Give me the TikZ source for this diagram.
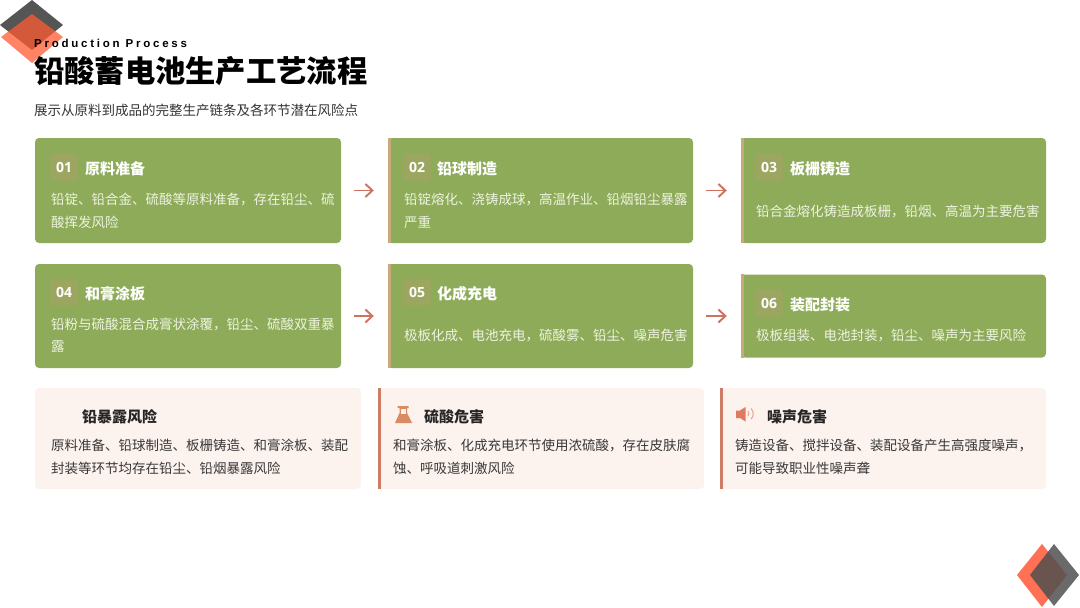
\documentclass[tikz,border=0pt]{standalone}
\usepackage{fontspec}
\usepackage{xcolor}
\usetikzlibrary{positioning, arrows.meta}
\setmainfont{Noto Sans CJK SC}
\newfontfamily\latinfont{Open Sans}
\newfontfamily\spacedfont[LetterSpace=24]{Liberation Sans}
\definecolor{cardgreen}{RGB}{141, 171, 89}
\definecolor{cardbar}{RGB}{201, 169, 124}
\definecolor{badgetan}{RGB}{157, 166, 96}
\definecolor{arrowred}{RGB}{208, 112, 95}
\definecolor{riskpink}{RGB}{252, 242, 238}
\definecolor{riskbar}{RGB}{205, 125, 102}
\definecolor{flaskorange}{RGB}{217, 140, 100}
\definecolor{speakerred}{RGB}{224, 122, 96}
\definecolor{darkdiamond}{RGB}{85, 85, 85}
\definecolor{greydiamond}{RGB}{80, 80, 80}
\definecolor{coraldiamond}{RGB}{255, 112, 84}
\definecolor{redoverlay}{RGB}{255, 90, 50}
\definecolor{bodylight}{RGB}{238, 243, 224}

\begin{document}
\begin{tikzpicture}[
    x=1pt, y=-1pt,
    card/.style={fill=cardgreen, rounded corners=4pt, minimum width=306pt, inner sep=0pt},
    risk/.style={fill=riskpink, rounded corners=4pt, minimum width=326pt, minimum height=101pt, inner sep=0pt},
    badge/.style={fill=badgetan, rounded corners=3pt, minimum size=27pt, inner sep=0pt,
                  font=\latinfont\fontsize{14}{14}\selectfont\bfseries, text=white},
    head/.style={anchor=west, inner sep=0pt, font=\fontsize{15}{15}\selectfont\bfseries, text=white},
    body/.style={anchor=west, align=left, inner sep=0pt, text=bodylight,
                 font=\fontsize{13.5}{22.5}\selectfont},
    riskhead/.style={head, text=black!85},
    riskbody/.style={body, text=black!78},
    arr/.style={-{Straight Barb[length=7pt, width=13pt]}, line width=1.9pt, color=arrowred,
                shorten >=14pt, shorten <=13pt},
    bar/.style={line width=3pt, color=cardbar},
    rbar/.style={line width=3pt, color=riskbar},
]
\useasboundingbox (0,0) rectangle (1080,608);

% corner marks
\fill[darkdiamond] (32,0) -- (63,25) -- (32,50) -- (0,25) -- cycle;
\fill[redoverlay, fill opacity=0.75] (32,14) -- (63,37) -- (32,63) -- (1,37) -- cycle;
\fill[coraldiamond] (1042,544) -- (1067,575) -- (1042,607) -- (1017,575) -- cycle;
\fill[greydiamond, fill opacity=0.85] (1054,544) -- (1079,575) -- (1054,606) -- (1030,575) -- cycle;

% title block
\node[anchor=west, inner sep=0pt, font=\spacedfont\fontsize{11.5}{11.5}\selectfont\bfseries] (subtitle) at (34,43) {Production Process};
\node[anchor=west, inner sep=0pt, font=\fontsize{30.3}{30.3}\selectfont\bfseries] (title) at (34,71) {铅酸蓄电池生产工艺流程};
\node[anchor=west, inner sep=0pt, font=\fontsize{13.5}{13.5}\selectfont, text=black!80] (intro) at (34,110) {展示从原料到成品的完整生产链条及各环节潜在风险点};

% process cards
\node[card, minimum height=105pt] (card1) at (188,190.5) {};
\node[card, minimum height=105pt, minimum width=305pt] (card2) at (540.5,190.5) {};
\node[card, minimum height=105pt, minimum width=305pt] (card3) at (893.5,190.5) {};
\node[card, minimum height=104pt] (card4) at (188,316) {};
\node[card, minimum height=104pt, minimum width=305pt] (card5) at (540.5,316) {};
\node[card, minimum height=83pt, minimum width=305pt] (card6) at (893.5,316) {};

\draw[bar] ([xshift=1.5pt]card2.north west) -- ([xshift=1.5pt]card2.south west);
\draw[bar] ([xshift=1.5pt]card3.north west) -- ([xshift=1.5pt]card3.south west);
\draw[bar] ([xshift=1.5pt]card5.north west) -- ([xshift=1.5pt]card5.south west);
\draw[bar] ([xshift=1.5pt]card6.north west) -- ([xshift=1.5pt]card6.south west);

\draw[arr] (card1) -- (card2);
\draw[arr] (card2) -- (card3);
\draw[arr] (card4) -- (card5);
\draw[arr] (card5) -- (card6);

\node[badge] (badge1) at (64,167) {01};
\node[head] (head1) at (85,168.5) {原料准备};
\node[body] (body1) at (51,211) {铅锭、铅合金、硫酸等原料准备，存在铅尘、硫\\酸挥发风险};

\node[badge] (badge2) at (417,167) {02};
\node[head] (head2) at (437,168.5) {铅球制造};
\node[body] (body2) at (404,211) {铅锭熔化、浇铸成球，高温作业、铅烟铅尘暴露\\严重};

\node[badge] (badge3) at (769,167) {03};
\node[head] (head3) at (790,168.5) {板栅铸造};
\node[body] (body3) at (756,211) {铅合金熔化铸造成板栅，铅烟、高温为主要危害};

\node[badge] (badge4) at (64,292) {04};
\node[head] (head4) at (85,293.5) {和膏涂板};
\node[body] (body4) at (51,335.5) {铅粉与硫酸混合成膏状涂覆，铅尘、硫酸双重暴\\露};

\node[badge] (badge5) at (417,292) {05};
\node[head] (head5) at (437,293.5) {化成充电};
\node[body] (body5) at (404,336) {极板化成、电池充电，硫酸雾、铅尘、噪声危害};

\node[badge] (badge6) at (769,303) {06};
\node[head] (head6) at (790,304.5) {装配封装};
\node[body] (body6) at (756,336) {极板组装、电池封装，铅尘、噪声为主要风险};

% risk cards
\node[risk] (risk1) at (198,438.5) {};
\node[risk] (risk2) at (541,438.5) {};
\node[risk] (risk3) at (883,438.5) {};

\draw[rbar] ([xshift=1.5pt]risk2.north west) -- ([xshift=1.5pt]risk2.south west);
\draw[rbar] ([xshift=1.5pt]risk3.north west) -- ([xshift=1.5pt]risk3.south west);

\node[riskhead] (riskhead1) at (82,416.5) {铅暴露风险};
\node[riskbody] (riskbody1) at (51,457) {原料准备、铅球制造、板栅铸造、和膏涂板、装配\\封装等环节均存在铅尘、铅烟暴露风险};

\node[riskhead] (riskhead2) at (424,416.5) {硫酸危害};
\node[riskbody] (riskbody2) at (393,457) {和膏涂板、化成充电环节使用浓硫酸，存在皮肤腐\\蚀、呼吸道刺激风险};

\node[riskhead] (riskhead3) at (767,416.5) {噪声危害};
\node[riskbody] (riskbody3) at (735,457) {铸造设备、搅拌设备、装配设备产生高强度噪声，\\可能导致职业性噪声聋};

% flask
\fill[flaskorange] (397.5,406) -- (408.5,406) -- (408.5,408) -- (407,408) -- (407,413) -- (412,423) -- (395,423) -- (399.5,413) -- (399.5,408) -- (397.5,408) -- cycle;
\fill[riskpink] (401,408.5) rectangle (405.5,413.5);

% speaker
\fill[speakerred] (736,410.5) -- (740,410.5) -- (745.5,407) -- (745.5,421.5) -- (740,418) -- (736,418) -- cycle;
\draw[speakerred!70, line width=1pt] (748,411) arc (-40:40:4);
\draw[speakerred!70, line width=1pt] (751,408.5) arc (-45:45:7.5);
\end{tikzpicture}
\end{document}
